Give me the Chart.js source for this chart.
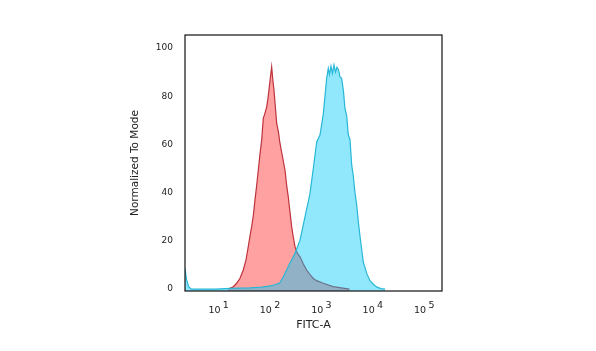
<!DOCTYPE html>
<html>
<head>
<meta charset="utf-8">
<script src="https://cdn.jsdelivr.net/npm/chart.js@4.4.3/dist/chart.umd.min.js"></script>
<style>
  html, body { margin: 0; padding: 0; background: #fff; }
  #chart { display: block; }
</style>
</head>
<body>
<canvas id="chart" width="596" height="351"></canvas>
<script>
// Histogram data. x is log10 of FITC-A, y is % of mode.
const redLog = [1.14, 1.23, 1.305, 1.37, 1.434, 1.486, 1.531, 1.564, 1.597, 1.632, 1.661, 1.695, 1.726, 1.759, 1.792, 1.823, 1.856, 1.889, 1.914, 1.94, 1.963, 1.986, 2.012, 2.031, 2.06, 2.084, 2.119, 2.148, 2.196, 2.245, 2.278, 2.309, 2.342, 2.375, 2.407, 2.44, 2.473, 2.504, 2.537, 2.6, 2.667, 2.732, 2.796, 2.86, 2.99, 3.18, 3.5];
const redValues = [0, 0.8, 2.4, 4.5, 7.9, 12, 17.6, 22, 25.9, 31, 36.9, 43, 49.4, 56, 61.8, 70.8, 73, 75.6, 79, 83.9, 88, 92.2, 86, 82.6, 75, 68.7, 65, 60.4, 55, 49.4, 43, 38.3, 32, 25.9, 21.5, 17.6, 15.5, 14.3, 13.4, 10.5, 7.9, 6, 4.4, 3.5, 2.4, 1, 0];

const blueLog = [0.3, 0.33, 0.37, 0.42, 0.903, 1.175, 1.564, 1.798, 1.953, 2.05, 2.148, 2.212, 2.278, 2.342, 2.44, 2.537, 2.601, 2.634, 2.698, 2.732, 2.796, 2.862, 2.893, 2.926, 2.99, 3.023, 3.056, 3.088, 3.111, 3.14, 3.169, 3.198, 3.228, 3.257, 3.286, 3.315, 3.348, 3.383, 3.412, 3.445, 3.477, 3.51, 3.543, 3.574, 3.607, 3.64, 3.672, 3.704, 3.737, 3.77, 3.802, 3.835, 3.899, 3.963, 4.035, 4.11, 4.19];
const blueValues = [8.5, 4, 1, 0, 0, 0.3, 0.5, 0.8, 1.3, 1.8, 2.6, 5, 8, 10.7, 14.8, 20.3, 26.6, 30, 36.2, 39.8, 50, 61, 62.5, 63.9, 72.5, 80, 87.4, 91.6, 89, 92.5, 89.5, 93, 90, 92, 91, 88, 87.4, 82, 75, 72, 64, 62, 51.5, 47, 40, 35, 28, 22, 16.5, 11, 9, 6.5, 3.5, 2, 0.8, 0.2, 0];

const xTickValues = [1, 2, 3, 4, 5];
const xTickExponents = ['1', '2', '3', '4', '5'];
const yTickValues = [0, 20, 40, 60, 80, 100];

const toPoints = (xs, ys) => xs.map((x, i) => ({ x, y: ys[i] }));
const font = 'DejaVu Sans';

// black frame round the plot area, plus the 10^n labels under it
const framePlugin = {
  id: 'frame',
  afterDraw(chart) {
    const { ctx, chartArea: a } = chart;
    ctx.save();
    ctx.strokeStyle = '#111';
    ctx.lineWidth = 1.2;
    ctx.strokeRect(a.left, a.top, a.right - a.left, a.bottom - a.top);

    const xs = chart.scales.x;
    ctx.fillStyle = '#222';
    ctx.font = `9.5px "${font}"`;
    ctx.textBaseline = 'alphabetic';
    xTickValues.forEach((v, i) => {
      const px = xs.getPixelForValue(v);
      ctx.textAlign = 'right';
      ctx.fillText('10', px - 0.5, a.bottom + 21.5);
      ctx.textAlign = 'left';
      ctx.fillText(xTickExponents[i], px + 1.8, a.bottom + 16.5);
    });
    ctx.restore();
  }
};

new Chart(document.getElementById('chart'), {
  type: 'line',
  data: {
    datasets: [
      {
        label: 'Isotype',
        data: toPoints(redLog, redValues),
        borderColor: 'rgb(190, 50, 60)',
        backgroundColor: 'rgba(255, 0, 0, 0.37)',
        borderWidth: 1.2,
        fill: 'start',
        order: 2
      },
      {
        label: 'Antibody',
        data: toPoints(blueLog, blueValues),
        borderColor: 'rgb(38, 184, 214)',
        backgroundColor: 'rgba(0, 200, 245, 0.43)',
        borderWidth: 1.2,
        fill: 'start',
        order: 1
      }
    ]
  },
  options: {
    responsive: false,
    animation: false,
    elements: { point: { radius: 0 }, line: { tension: 0 } },
    layout: { padding: { left: 125, right: 154, top: 35, bottom: 0 } },
    plugins: { legend: { display: false }, tooltip: { enabled: false } },
    scales: {
      x: {
        type: 'linear',
        min: 0.3,
        max: 5.3,
        grid: { display: false, drawTicks: false },
        border: { display: false },
        afterFit: (s) => { s.height = 60; },
        afterBuildTicks: (s) => { s.ticks = xTickValues.map(v => ({ value: v })); },
        ticks: { display: false },
        title: {
          display: true,
          text: 'FITC-A',
          color: '#222',
          font: { family: font, size: 11 },
          padding: { top: 0, bottom: 19 }
        }
      },
      y: {
        min: -0.8,
        max: 105.4,
        grid: { display: false, drawTicks: false },
        border: { display: false },
        afterFit: (s) => { s.width = 60; },
        afterBuildTicks: (s) => { s.ticks = yTickValues.map(v => ({ value: v })); },
        ticks: {
          padding: 12,
          color: '#222',
          font: { family: font, size: 9 }
        },
        title: {
          display: true,
          text: 'Normalized To Mode',
          color: '#222',
          font: { family: font, size: 10.5 },
          padding: { top: 4, bottom: 0 }
        }
      }
    }
  },
  plugins: [framePlugin]
});
</script>
</body>
</html>
